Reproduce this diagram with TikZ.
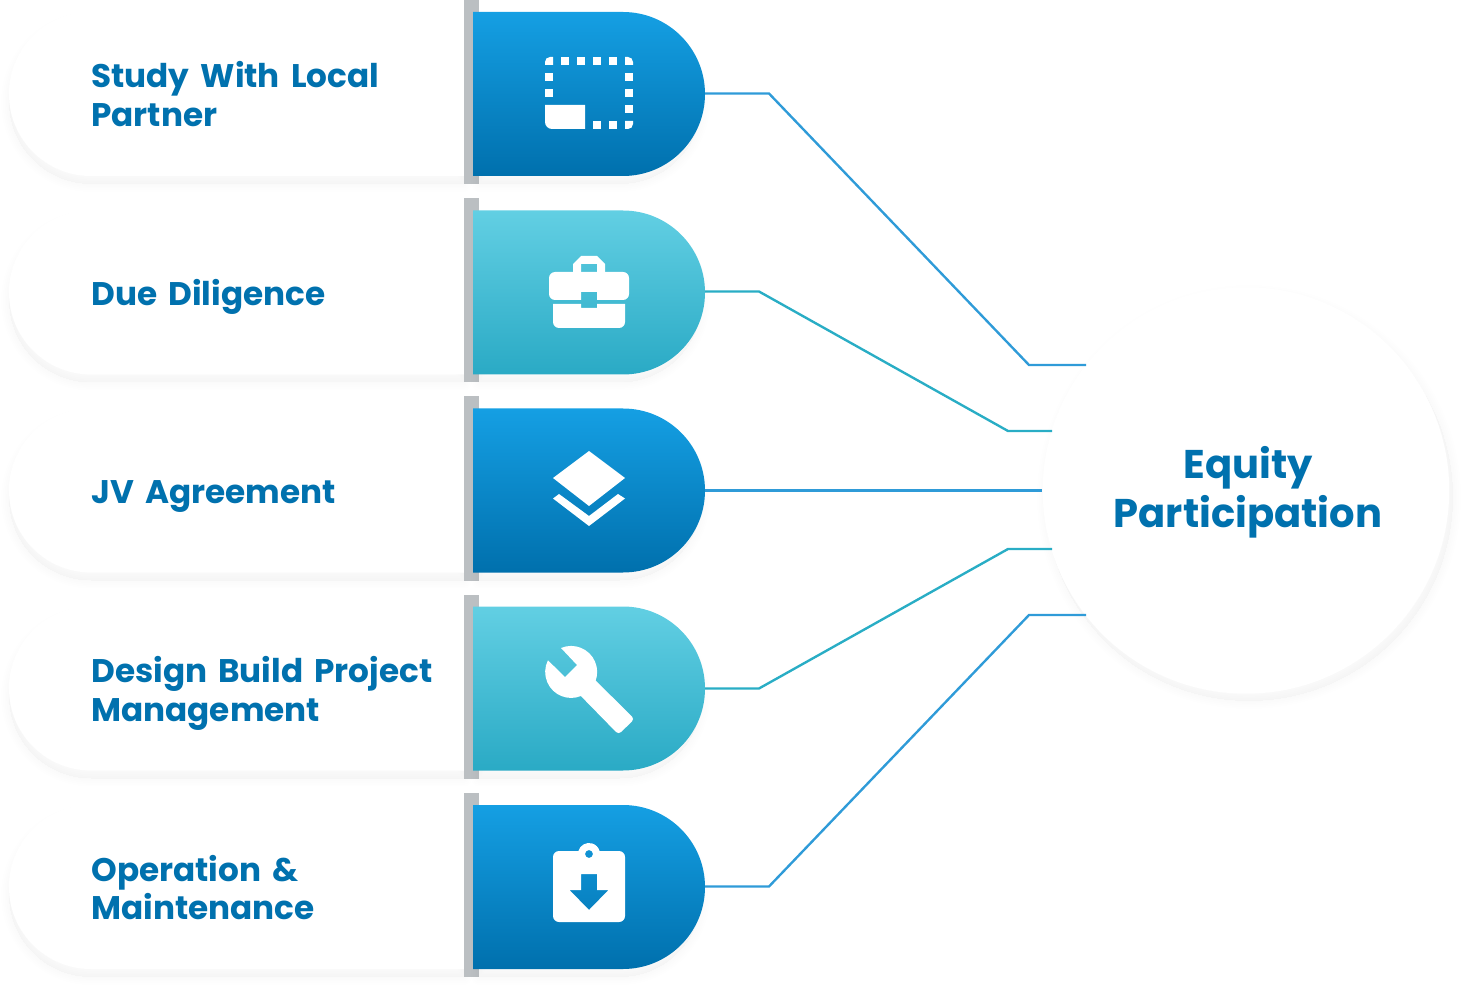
\documentclass[tikz,border=0pt]{standalone}
\usepackage{fontspec}
\setmainfont[WordSpace=1.6]{Poppins}
\usetikzlibrary{calc}
\definecolor{inkblue}{HTML}{0071AE}
\definecolor{linkblue}{HTML}{2F9BD8}
\definecolor{linkteal}{HTML}{29ADC5}
\definecolor{barGrey}{HTML}{BBBFC2}
\definecolor{blueTop}{HTML}{159FE3}
\definecolor{blueLow}{HTML}{0070AD}
\definecolor{tealTop}{HTML}{62CFE3}
\definecolor{tealLow}{HTML}{2AAAC5}
\tikzset{
	steplabel/.style={anchor=west, align=left, inner sep=0pt, text=inkblue, font=\fontsize{18.6}{22.1}\selectfont\bfseries},
	hubdisc/.style={circle, fill=white, minimum size=231.3pt, inner sep=0pt},
	hublabel/.style={align=center, inner sep=0pt, text=inkblue, font=\fontsize{22.8}{27.8}\selectfont\bfseries},
	bluelink/.style={draw=linkblue, line width=1.35pt},
	teallink/.style={draw=linkteal, line width=1.35pt},
	softshadow/.style={draw=black, fill=black, line join=round, opacity=0.004}
}
% one row: top y, then top and bottom colour of the cap
\def\steprow(#1:#2:#3){
	\begin{scope}[shift={(0,#1)}]
		\foreach \w in {1,3,...,9}
			\draw[softshadow, line width=\w pt] (464,8) -- (91,8) arc (270:90:82) -- (464,172) -- cycle;
		\fill[white] (479,0) -- (91,0) arc (270:90:82) -- (479,164) -- cycle;
		\fill[barGrey] (464,-12) rectangle (479,172);
		\foreach \w in {1,3,...,9}
			\draw[softshadow, line width=\w pt] (620,8) arc (-90:90:82) -- (479,172) -- (479,8) -- cycle;
		\shade[top color=#2, bottom color=#3] (473,0) -- (623,0) arc (-90:90:82) -- (473,164) -- cycle;
	\end{scope}
}

\begin{document}
\begin{tikzpicture}[x=0.02cm, y=-0.02cm]
	\useasboundingbox (0,0) rectangle (1470,989);

	\steprow(12:blueTop:blueLow)
	\steprow(210.5:tealTop:tealLow)
	\steprow(408.5:blueTop:blueLow)
	\steprow(606.5:tealTop:tealLow)
	\steprow(805:blueTop:blueLow)

	\node[steplabel] (study) at (91,94) {Study With Local\\Partner};
	\node[steplabel] (diligence) at (91,297) {Due Diligence};
	\node[steplabel] (agreement) at (91,497) {JV Agreement};
	\node[steplabel] (design) at (91,693.5) {Design Build Project\\Management};
	\node[steplabel] (operation) at (91,887.5) {Operation \&\\Maintenance};

	% dotted frame
	\foreach \x in {561,577,593,609}
		\fill[white] (\x,57) rectangle ++(8,8);
	\foreach \x in {593,609}
		\fill[white] (\x,121) rectangle ++(8,8);
	\foreach \y in {73,89}
		\fill[white] (545,\y) rectangle ++(8,8);
	\foreach \y in {73,89,105}
		\fill[white] (625,\y) rectangle ++(8,8);
	\fill[white] (545,65) -- (545,62) arc (180:270:5) -- (553,57) -- (553,65) -- cycle;
	\fill[white] (625,65) -- (625,57) -- (628,57) arc (270:360:5) -- (633,65) -- cycle;
	\fill[white] (625,121) -- (633,121) -- (633,124) arc (0:90:5) -- (625,129) -- cycle;
	\fill[white] (545,105) -- (585,105) -- (585,129) -- (552,129) arc (90:180:7) -- cycle;

	% briefcase
	\fill[white] (549,278) arc (180:270:6) -- (623,272) arc (270:360:6) -- (629,294) arc (0:90:6)
		-- (597,300) -- (597,292) -- (581,292) -- (581,300) -- (555,300) arc (90:180:6) -- cycle;
	\fill[white] (553,304) -- (581,304) -- (581,308) -- (597,308) -- (597,304) -- (625,304)
		-- (625,322) arc (0:90:6) -- (559,328) arc (90:180:6) -- cycle;
	\fill[white] (573,272) -- (573,264) -- (581,256) -- (597,256) -- (605,264) -- (605,272)
		-- (597,272) -- (597,264) -- (581,264) -- (581,272) -- cycle;

	% layers
	\fill[white] (589,451) -- (625,478) -- (589,506) -- (553,478) -- cycle;
	\fill[white] (553,498.5) -- (589,526) -- (625,498.5) -- (618,494) -- (589,516) -- (559,494) -- cycle;

	% wrench
	\fill[white] (561,648) arc (247:566.6:26) -- (565,677) -- (577,665) -- cycle;
	\fill[white, rounded corners=2pt] (590,675) -- (634.5,719) -- (618.5,734.5) -- (575,690) -- cycle;

	% clipboard with arrow
	\fill[white, even odd rule] (559,851) -- (578.4,851) arc (195.8:344.2:11) -- (619,851) arc (-90:0:6)
		-- (625,916) arc (0:90:6) -- (559,922) arc (90:180:6) -- (553,857) arc (180:270:6) -- cycle
		(593,854) arc (0:360:4)
		(581,874) -- (597,874) -- (597,890) -- (608.5,890) -- (589,910) -- (569.5,890) -- (581,890) -- cycle;

	% centre circle
	\foreach \w in {1,3,...,9}
		\draw[softshadow, line width=\w pt] (1249,497) circle (204);
	\node[hubdisc] (hub) at (1246,490.5) {};
	\node[hublabel] (hubtext) at (1248,492.5) {Equity\\Participation};

	% connectors
	\coordinate (out1) at (705,93.5);
	\coordinate (out2) at (705,291.5);
	\coordinate (out3) at (705,490.5);
	\coordinate (out4) at (705,688.5);
	\coordinate (out5) at (705,886.5);
	\coordinate (bend1a) at (769,93.5);
	\coordinate (bend1b) at (1029,365);
	\coordinate (in1) at (1086,365);
	\coordinate (bend2a) at (759,291.5);
	\coordinate (bend2b) at (1008,431);
	\coordinate (in2) at (1052,431);
	\coordinate (bend4a) at (759,688.5);
	\coordinate (bend4b) at (1008,549);
	\coordinate (in4) at (1052,549);
	\coordinate (bend5a) at (769,886.5);
	\coordinate (bend5b) at (1029,615);
	\coordinate (in5) at (1086,615);
	\draw[bluelink] (out1) -- (bend1a) -- (bend1b) -- (in1);
	\draw[teallink] (out2) -- (bend2a) -- (bend2b) -- (in2);
	\draw[bluelink] (out3) -- (hub.west);
	\draw[teallink] (out4) -- (bend4a) -- (bend4b) -- (in4);
	\draw[bluelink] (out5) -- (bend5a) -- (bend5b) -- (in5);
\end{tikzpicture}
\end{document}
